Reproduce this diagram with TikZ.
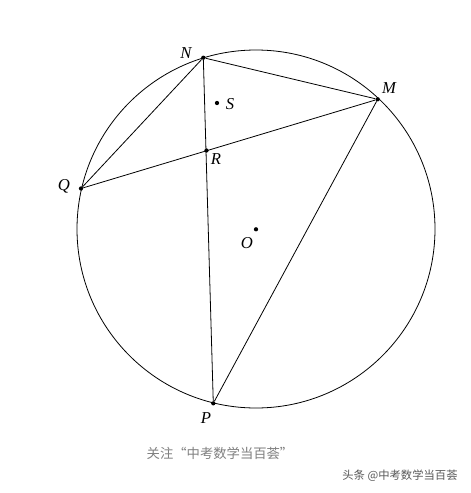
\documentclass[tikz,border=0pt]{standalone}
\usepackage{fontspec}
\setmainfont{Liberation Serif}
\newfontfamily\cjk{Noto Sans CJK SC}
\begin{document}
\begin{tikzpicture}[x=0.75pt,y=-0.75pt,
  seg/.style={line width=0.6pt,black},
  pt/.style={circle,fill=black,inner sep=0pt,minimum size=3.2pt},
  lbl/.style={font=\fontsize{12.5}{14}\selectfont\itshape,inner sep=0pt}]
\useasboundingbox (0,0) rectangle (471,493);
\fill[white] (0,0) rectangle (471,493);
\coordinate (Oc) at (256,229);
\draw[seg] (Oc) circle[radius=179];
\node[pt] (N) at (203.3,57.7) {};
\node[pt] (M) at (377.7,99.3) {};
\node[pt] (Q) at (81,188.5) {};
\node[pt] (P) at (213.3,403.3) {};
\node[pt] (R) at (206.5,150.5) {};
\node[pt] (S) at (217,103) {};
\node[pt] (O) at (256,229.3) {};
\draw[seg] (N) -- (M) -- (Q) -- (N) -- (P) -- (M);
\node[lbl] at (186,53) {N};
\node[lbl] at (389,88) {M};
\node[lbl] at (64,186) {Q};
\node[lbl] at (206,418) {P};
\node[lbl] at (216,159) {R};
\node[lbl] at (230,104) {S};
\node[lbl] at (247,243) {O};
\node[font=\cjk\fontsize{10}{12}\selectfont,text=black!50,inner sep=0pt] at (220,453) {关注“中考数学当百荟”};
\node[font=\cjk\fontsize{8.5}{10}\selectfont,text=black!65,inner sep=0pt] at (400,476) {头条 @中考数学当百荟};
\end{tikzpicture}
\end{document}
